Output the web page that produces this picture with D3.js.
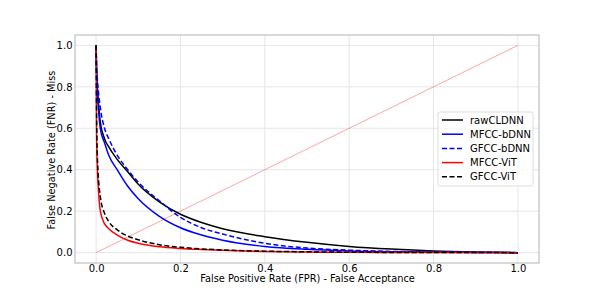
<!DOCTYPE html>
<html lang="en">
<head>
  <meta charset="utf-8">
  <script src="https://d3js.org/d3.v7.min.js"></script>
  <style>
    body { margin: 0; background: #fff; }
    text { font-family: "DejaVu Sans", sans-serif; }
  </style>
</head>
<body>
  <script>
    // shared FPR grid and FNR per system
    const fpr = [0, 0.001, 0.003, 0.005, 0.01, 0.02, 0.03, 0.05, 0.075, 0.1, 0.15, 0.2, 0.25, 0.3, 0.4, 0.5, 0.6, 0.7, 0.8, 0.9, 1.0];
    const rawCLDNN  = [1.0, 0.90, 0.80, 0.74, 0.63, 0.55, 0.51, 0.45, 0.39, 0.33, 0.245, 0.185, 0.145, 0.115, 0.077, 0.05, 0.03, 0.017, 0.008, 0.003, 0.0];
    const mfccBdnn  = [1.0, 0.88, 0.77, 0.71, 0.60, 0.53, 0.47, 0.40, 0.32, 0.26, 0.175, 0.12, 0.085, 0.06, 0.03, 0.016, 0.008, 0.004, 0.002, 0.001, 0.0];
    const gfccBdnn  = [1.0, 0.92, 0.84, 0.79, 0.70, 0.60, 0.55, 0.47, 0.40, 0.34, 0.25, 0.17, 0.12, 0.09, 0.045, 0.022, 0.012, 0.006, 0.003, 0.001, 0.0];
    const mfccVit   = [1.0, 0.60, 0.40, 0.32, 0.20, 0.14, 0.115, 0.085, 0.06, 0.045, 0.028, 0.02, 0.015, 0.011, 0.006, 0.003, 0.002, 0.001, 0.0005, 0.0002, 0.0];
    const gfccVit   = [1.0, 0.70, 0.47, 0.38, 0.27, 0.19, 0.15, 0.11, 0.08, 0.062, 0.038, 0.026, 0.018, 0.013, 0.007, 0.004, 0.002, 0.001, 0.0005, 0.0002, 0.0];
    const seriesNames = ["rawCLDNN", "MFCC-bDNN", "GFCC-bDNN", "MFCC-ViT", "GFCC-ViT"];
    const seriesValues = [rawCLDNN, mfccBdnn, gfccBdnn, mfccVit, gfccVit];
    const colors = ["#000000", "#0000ff", "#0000ff", "#ff0000", "#000000"];
    const dashes = [null, null, "5,2.5", null, "5,2.5"];
    const tickValues = [0, 0.2, 0.4, 0.6, 0.8, 1.0];

    const width = 598, height = 296;
    const pLeft = 75, pRight = 539, pTop = 35, pBottom = 263;

    const svg = d3.select("body").append("svg")
      .attr("width", width)
      .attr("height", height);

    const x = d3.scaleLinear().domain([-0.05, 1.05]).range([pLeft, pRight]);
    const y = d3.scaleLinear().domain([-0.05, 1.05]).range([pBottom, pTop]);

    // grid
    svg.append("g").selectAll("line").data(tickValues).enter().append("line")
      .attr("x1", d => x(d)).attr("x2", d => x(d))
      .attr("y1", pTop).attr("y2", pBottom)
      .attr("stroke", "#e6e6e6").attr("stroke-width", 1);
    svg.append("g").selectAll("line").data(tickValues).enter().append("line")
      .attr("y1", d => y(d)).attr("y2", d => y(d))
      .attr("x1", pLeft).attr("x2", pRight)
      .attr("stroke", "#e6e6e6").attr("stroke-width", 1);

    // axes (labels only, spines drawn as a frame)
    const xAxis = svg.append("g")
      .attr("transform", "translate(0," + pBottom + ")")
      .call(d3.axisBottom(x).tickValues(tickValues).tickFormat(d3.format(".1f")).tickSize(0).tickPadding(1.5));
    const yAxis = svg.append("g")
      .attr("transform", "translate(" + pLeft + ",0)")
      .call(d3.axisLeft(y).tickValues(tickValues).tickFormat(d3.format(".1f")).tickSize(0).tickPadding(2.5));
    [xAxis, yAxis].forEach(function(a) {
      a.select(".domain").remove();
      a.selectAll("text").attr("font-size", "10px").attr("fill", "#000")
        .attr("font-family", "DejaVu Sans, sans-serif");
    });

    // chance diagonal
    svg.append("line")
      .attr("x1", x(0)).attr("y1", y(0)).attr("x2", x(1)).attr("y2", y(1))
      .attr("stroke", "#ff0000").attr("stroke-opacity", 0.45).attr("stroke-width", 0.8);

    const line = d3.line()
      .x(d => x(d[0]))
      .y(d => y(d[1]))
      .curve(d3.curveMonotoneX);

    seriesValues.forEach(function(vals, i) {
      svg.append("path")
        .datum(fpr.map((f, j) => [f, vals[j]]))
        .attr("d", line)
        .attr("fill", "none")
        .attr("stroke", colors[i])
        .attr("stroke-width", 1.5)
        .attr("stroke-dasharray", dashes[i]);
    });

    // frame
    svg.append("rect")
      .attr("x", pLeft).attr("y", pTop)
      .attr("width", pRight - pLeft).attr("height", pBottom - pTop)
      .attr("fill", "none").attr("stroke", "#b3b3b3").attr("stroke-width", 1);

    // axis titles
    svg.append("text")
      .attr("x", (pLeft + pRight) / 2 + 0.5).attr("y", 282)
      .attr("text-anchor", "middle").attr("font-size", "9.8px")
      .text("False Positive Rate (FPR) - False Acceptance");
    svg.append("text")
      .attr("transform", "translate(55," + ((pTop + pBottom) / 2 + 1) + ") rotate(-90)")
      .attr("text-anchor", "middle").attr("font-size", "9.8px")
      .text("False Negative Rate (FNR) - Miss");

    // legend
    const lg = svg.append("g").attr("transform", "translate(438,112)");
    lg.append("rect")
      .attr("width", 95).attr("height", 74).attr("rx", 2)
      .attr("fill", "#fff").attr("fill-opacity", 0.8)
      .attr("stroke", "#dddddd");
    const rows = lg.selectAll("g.row").data(seriesNames).enter().append("g")
      .attr("transform", (d, i) => "translate(0," + (8 + i * 14.2) + ")");
    rows.append("line")
      .attr("x1", 4).attr("x2", 25).attr("y1", 0).attr("y2", 0)
      .attr("stroke", (d, i) => colors[i])
      .attr("stroke-width", 1.5)
      .attr("stroke-dasharray", (d, i) => dashes[i]);
    rows.append("text")
      .attr("x", 32).attr("y", 3.5)
      .attr("font-size", "10px")
      .text(d => d);
  </script>
</body>
</html>
